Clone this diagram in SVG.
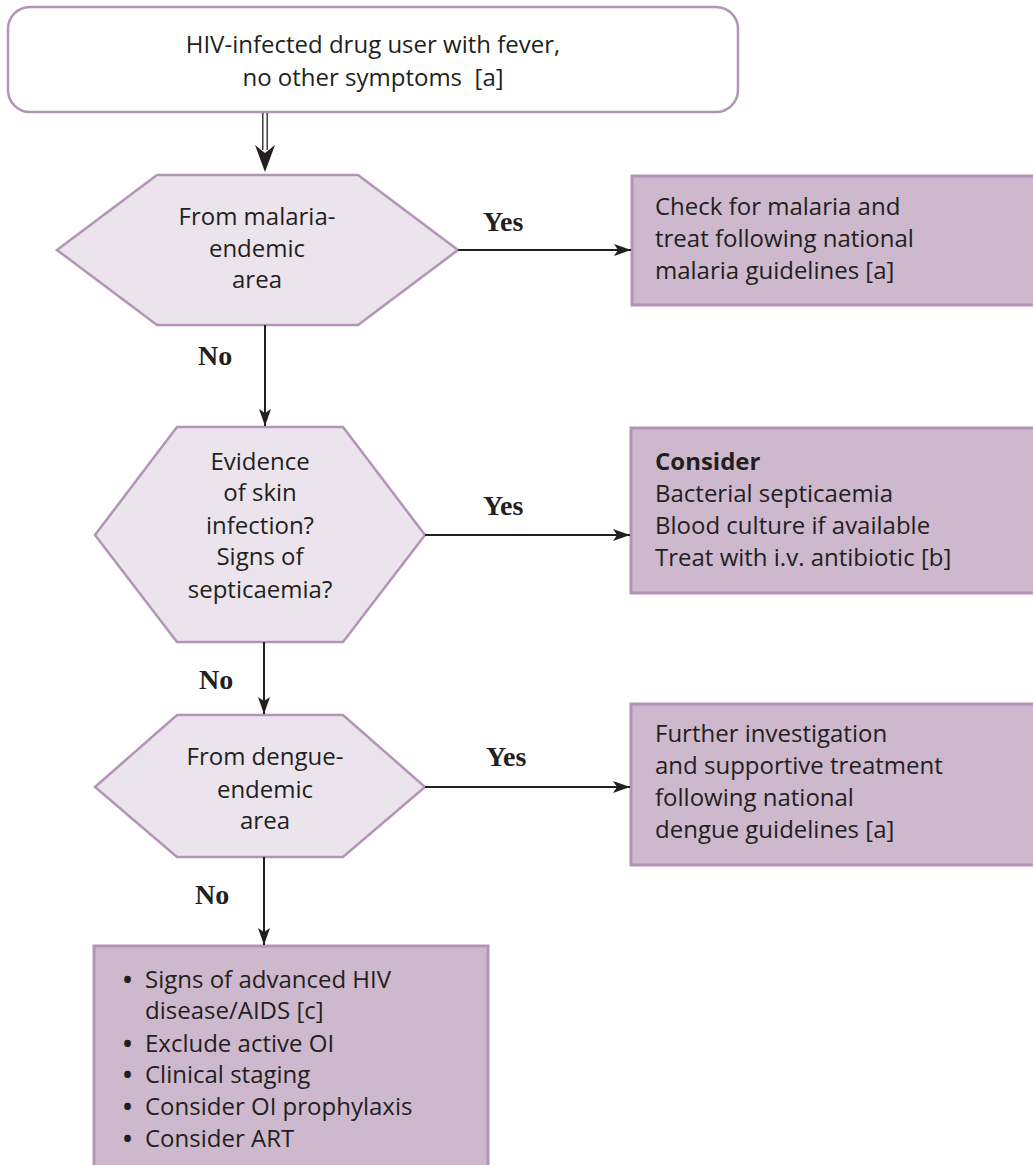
<svg xmlns="http://www.w3.org/2000/svg" width="1033" height="1165" viewBox="0 0 1033 1165">
<style>
.t{font-family:"Open Sans","Noto Sans",sans-serif;font-size:24px;fill:#231f20}
.c{text-anchor:middle}
.b{font-weight:700}
.bul{font-weight:700}
.lbl{font-family:"Liberation Serif",serif;font-size:28px;font-weight:700;fill:#231f20}
.hex{fill:#ebe4ec;stroke:#b493b8;stroke-width:2.5}
.box{fill:#cdb8cd;stroke:#b493b8;stroke-width:3}
.start{fill:#ffffff;stroke:#b493b8;stroke-width:2.5}
.ln{stroke:#231f20;stroke-width:2;fill:none}
</style>
<defs>
<marker id="ah" markerWidth="18" markerHeight="14" refX="17" refY="7" orient="auto" markerUnits="userSpaceOnUse">
<path d="M0,1 L17,7 L0,13 L4,7 Z" fill="#231f20"/>
</marker>
</defs>

<g id="start">
<rect class="start" x="8" y="7" width="730" height="105" rx="22"/>
<text class="t c" x="373" y="53">HIV-infected drug user with fever,</text>
<text class="t c" x="373" y="86" xml:space="preserve">no other symptoms  [a]</text>
</g>

<g id="q1">
<polygon class="hex" points="57,250 157,175 358,175 458,250 358,325 157,325"/>
<text class="t c" x="257" y="225">From malaria-</text>
<text class="t c" x="257" y="257">endemic</text>
<text class="t c" x="257" y="288">area</text>
</g>

<g id="a1">
<rect class="box" x="632" y="176" width="410" height="129"/>
<text class="t" x="655" y="215">Check for malaria and</text>
<text class="t" x="655" y="247">treat following national</text>
<text class="t" x="655" y="279">malaria guidelines [a]</text>
</g>

<g id="q2">
<polygon class="hex" points="95,535 177,427 343,427 425,535 343,642 177,642"/>
<text class="t c" x="260" y="470">Evidence</text>
<text class="t c" x="260" y="501">of skin</text>
<text class="t c" x="260" y="534">infection?</text>
<text class="t c" x="260" y="565">Signs of</text>
<text class="t c" x="260" y="598">septicaemia?</text>
</g>

<g id="a2">
<rect class="box" x="631" y="428" width="411" height="165"/>
<text class="t b" x="655" y="470">Consider</text>
<text class="t" x="655" y="502">Bacterial septicaemia</text>
<text class="t" x="655" y="534">Blood culture if available</text>
<text class="t" x="655" y="566">Treat with i.v. antibiotic [b]</text>
</g>

<g id="q3">
<polygon class="hex" points="95,787 177,715 343,715 425,787 343,857 177,857"/>
<text class="t c" x="265" y="765">From dengue-</text>
<text class="t c" x="265" y="798">endemic</text>
<text class="t c" x="265" y="829">area</text>
</g>

<g id="a3">
<rect class="box" x="631" y="704" width="411" height="161"/>
<text class="t" x="655" y="742">Further investigation</text>
<text class="t" x="655" y="774">and supportive treatment</text>
<text class="t" x="655" y="806">following national</text>
<text class="t" x="655" y="838">dengue guidelines [a]</text>
</g>

<g id="a4">
<rect class="box" x="94" y="946" width="394" height="230"/>
<text class="t" y="988"><tspan class="bul" x="123">•</tspan><tspan x="145">Signs of advanced HIV</tspan></text>
<text class="t" x="145" y="1019">disease/AIDS [c]</text>
<text class="t" y="1052"><tspan class="bul" x="123">•</tspan><tspan x="145">Exclude active OI</tspan></text>
<text class="t" y="1083"><tspan class="bul" x="123">•</tspan><tspan x="145">Clinical staging</tspan></text>
<text class="t" y="1115"><tspan class="bul" x="123">•</tspan><tspan x="145">Consider OI prophylaxis</tspan></text>
<text class="t" y="1147"><tspan class="bul" x="123">•</tspan><tspan x="145">Consider ART</tspan></text>
</g>

<g id="connectors">
<line x1="262.8" y1="113" x2="262.8" y2="150" stroke="#231f20" stroke-width="1.3"/>
<line x1="267.2" y1="113" x2="267.2" y2="150" stroke="#231f20" stroke-width="1.3"/>
<path d="M255,145 L265,172 L275,145 L265,153 Z" fill="#231f20"/>

<line class="ln" x1="458" y1="250" x2="631" y2="250" marker-end="url(#ah)"/>
<line class="ln" x1="265" y1="325" x2="265" y2="426" marker-end="url(#ah)"/>
<line class="ln" x1="425" y1="535" x2="630" y2="535" marker-end="url(#ah)"/>
<line class="ln" x1="264" y1="642" x2="264" y2="714" marker-end="url(#ah)"/>
<line class="ln" x1="425" y1="787" x2="630" y2="787" marker-end="url(#ah)"/>
<line class="ln" x1="264" y1="857" x2="264" y2="945" marker-end="url(#ah)"/>

<text class="lbl" x="483" y="231">Yes</text>
<text class="lbl" x="198" y="365">No</text>
<text class="lbl" x="483" y="515">Yes</text>
<text class="lbl" x="199" y="689">No</text>
<text class="lbl" x="486" y="766">Yes</text>
<text class="lbl" x="195" y="904">No</text>
</g>
</svg>
